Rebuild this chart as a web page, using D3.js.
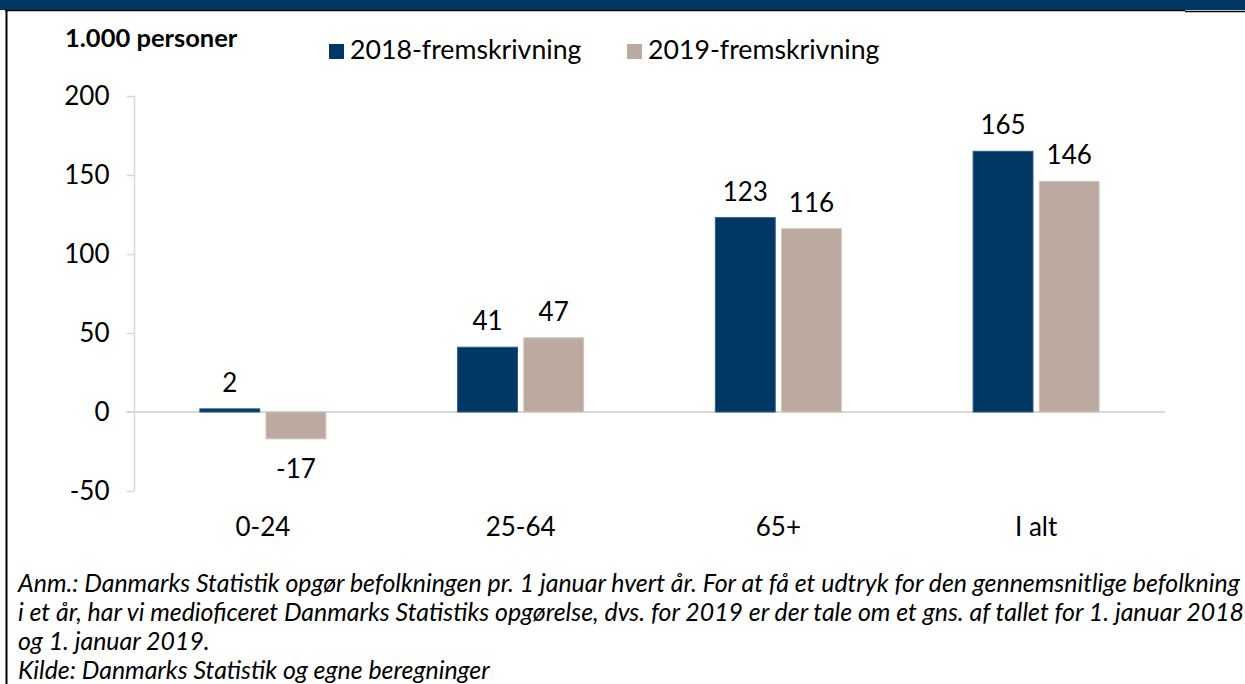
<!DOCTYPE html>
<html>
<head>
<meta charset="utf-8">
<script src="https://cdn.jsdelivr.net/npm/d3@7"></script>
<style>
    html, body { margin: 0; padding: 0; background: #fff; }
    svg { display: block; font-family: Lato, "Open Sans", sans-serif; }
</style>
</head>
<body>
<div id="chart"></div>
<script>
const categories = ["0-24", "25-64", "65+", "I alt"];
const seriesNames = ["2018-fremskrivning", "2019-fremskrivning"];
const values2018 = [2, 41, 123, 165];
const values2019 = [-17, 47, 116, 146];
const yTicks = [-50, 0, 50, 100, 150, 200];
const notes = [
    "Anm.: Danmarks Statistik opgør befolkningen pr. 1 januar hvert år. For at få et udtryk for den gennemsnitlige befolkning",
    "i et år, har vi medioficeret Danmarks Statistiks opgørelse, dvs. for 2019 er der tale om et gns. af tallet for 1. januar 2018",
    "og 1. januar 2019.",
    "Kilde: Danmarks Statistik og egne beregninger"
];

const colors = ["#003764", "#bcaaa0"];
const strokes = ["#2c5a85", "#d2c5be"];
const width = 1245, height = 684;

const svg = d3.select("#chart").append("svg").attr("width", width).attr("height", height);

// header strip (title is cut off in the original) and frame
svg.append("rect").attr("x", 0).attr("y", 0).attr("width", width).attr("height", 10).attr("fill", "#003764");
svg.append("line").attr("x1", 5).attr("x2", 1185).attr("y1", 10.5).attr("y2", 10.5).attr("stroke", "#000").attr("stroke-width", 1.5);
svg.append("line").attr("x1", 1185).attr("x2", width).attr("y1", 11.5).attr("y2", 11.5).attr("stroke", "#000").attr("stroke-width", 1.5);
svg.append("line").attr("x1", 6.5).attr("x2", 6.5).attr("y1", 10).attr("y2", height).attr("stroke", "#000").attr("stroke-width", 2);

const x0 = d3.scaleBand().domain(categories).range([134, 1165]).padding(0);
const x1 = d3.scaleBand().domain([0, 1]).range([-63, 63]).paddingInner(0.095);
const y = d3.scaleLinear().domain([-50, 200]).range([491, 96]);

// y axis
const yAxis = svg.append("g").attr("transform", "translate(134.5,0)")
    .call(d3.axisLeft(y).tickValues(yTicks).tickSize(8).tickPadding(17).tickFormat(d => String(d)));
yAxis.select(".domain").attr("stroke", "#d9d9d9").attr("stroke-width", 1.5).attr("d", "M0," + y(200) + "V" + y(-50));
yAxis.selectAll(".tick line").attr("stroke", "#d9d9d9").attr("stroke-width", 1.5);
yAxis.selectAll(".tick text").attr("fill", "#000").style("font-size", "26px").style("font-family", "Lato");
yAxis.selectAll(".tick").filter(d => d === 0).select("line").remove();

// zero line
svg.append("line").attr("x1", 126).attr("x2", 1165).attr("y1", y(0)).attr("y2", y(0))
    .attr("stroke", "#d9d9d9").attr("stroke-width", 2);

// bars
const rows = categories.map((c, i) => ({ cat: c, vals: [values2018[i], values2019[i]] }));
const groups = svg.append("g").selectAll("g").data(rows).enter().append("g")
    .attr("transform", d => "translate(" + (x0(d.cat) + x0.bandwidth() / 2) + ",0)");

groups.selectAll("rect").data(d => d.vals.map((v, s) => ({ v, s }))).enter().append("rect")
    .attr("x", d => x1(d.s))
    .attr("width", x1.bandwidth())
    .attr("y", d => y(Math.max(0, d.v)))
    .attr("height", d => Math.abs(y(d.v) - y(0)))
    .attr("fill", d => colors[d.s])
    .attr("stroke", d => strokes[d.s])
    .attr("stroke-width", 1);

groups.selectAll("text").data(d => d.vals.map((v, s) => ({ v, s }))).enter().append("text")
    .attr("x", d => x1(d.s) + x1.bandwidth() / 2)
    .attr("y", d => d.v >= 0 ? y(d.v) - 17 : y(d.v) + 39)
    .attr("text-anchor", "middle")
    .style("font-size", "26px")
    .text(d => d.v);

// category labels
svg.append("g").selectAll("text").data(categories).enter().append("text")
    .attr("x", d => x0(d) + x0.bandwidth() / 2)
    .attr("y", 536)
    .attr("text-anchor", "middle")
    .style("font-size", "26px")
    .text(d => d);

// unit label
svg.append("text").attr("x", 65).attr("y", 47)
    .style("font-size", "25.5px").style("font-weight", "bold").text("1.000 personer");

// legend
const legendX = [329, 627];
const legend = svg.append("g").selectAll("g").data(seriesNames).enter().append("g")
    .attr("transform", (d, i) => "translate(" + legendX[i] + ",0)");
legend.append("rect").attr("x", 0).attr("y", 44).attr("width", 15).attr("height", 15)
    .attr("fill", (d, i) => colors[i]);
legend.append("text").attr("x", 21).attr("y", 59).style("font-size", "26.7px").text(d => d);

// notes
const noteText = svg.append("g").selectAll("text").data(notes).enter().append("text")
    .attr("x", 18)
    .attr("y", (d, i) => 592 + i * 29)
    .style("font-size", "22px")
    .style("font-style", "italic")
    .text(d => d);

// fit the first line to the width it has in the original
const firstLen = noteText.node().getComputedTextLength();
const fs = 22 * 1222 / firstLen;
noteText.style("font-size", fs + "px");
</script>
</body>
</html>
